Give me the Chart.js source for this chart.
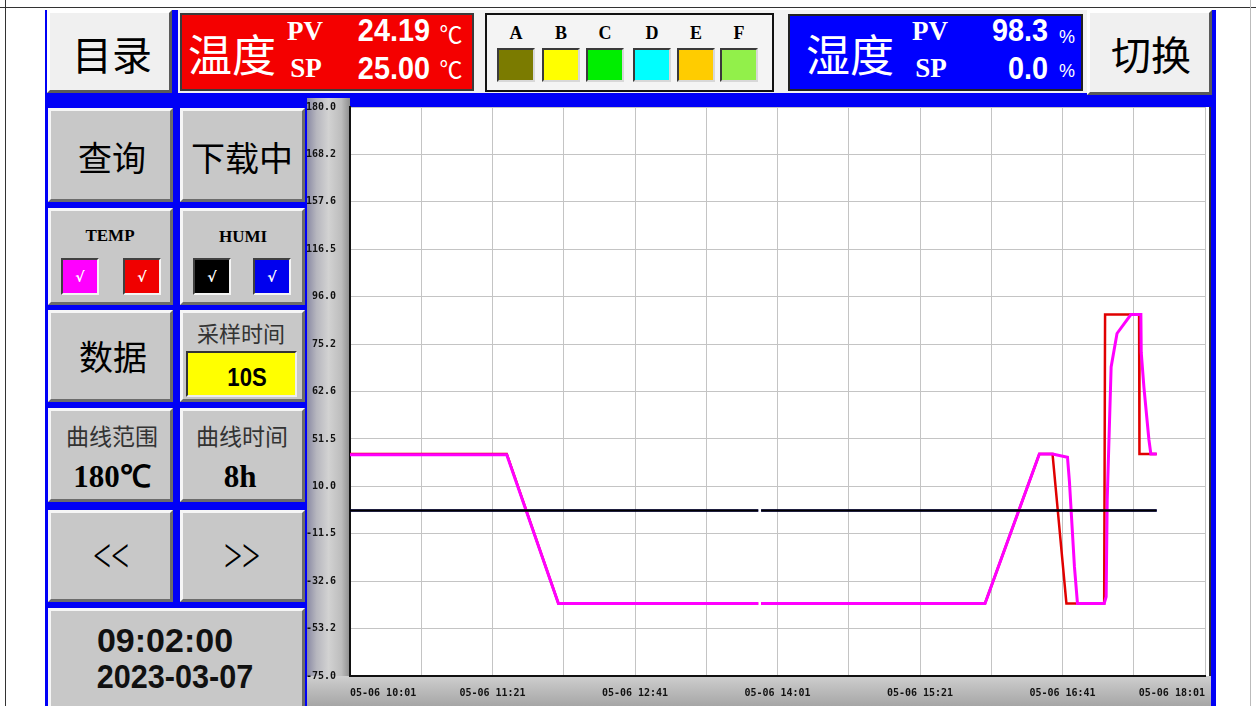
<!DOCTYPE html>
<html>
<head>
<meta charset="utf-8">
<script src="https://cdn.jsdelivr.net/npm/chart.js@4.4.1/dist/chart.umd.min.js"></script>
<style>
html,body{margin:0;padding:0;background:#fff;}
#page{position:relative;width:1256px;height:706px;overflow:hidden;font-family:"Noto Sans CJK SC",sans-serif;}
.abs{position:absolute;box-sizing:border-box;}
.t{position:absolute;transform:translate(-50%,-50%);white-space:nowrap;line-height:1;}
.btn{position:absolute;box-sizing:border-box;background:#c8c8c8;border:3px solid;border-color:#f6f6f6 #6c6c6c #6c6c6c #f6f6f6;}
.light{background:#f0f0f0;border-color:#ffffff #5a5a5a #5a5a5a #ffffff;}
.cjk{font-family:"Noto Sans CJK SC";color:#000;}
.serif{font-family:"Liberation Serif",serif;font-weight:bold;}
.num{font-family:"Liberation Sans",sans-serif;font-weight:bold;}
.sw{position:absolute;box-sizing:border-box;width:38px;height:34px;top:48px;border:2px solid;border-color:#3a3a3a #d8d8d8 #d8d8d8 #3a3a3a;}
.chk{position:absolute;box-sizing:border-box;width:38px;height:37px;top:258px;border:2px solid;border-color:#404040 #f4f4f4 #f4f4f4 #404040;color:#fff;font:bold 14px "DejaVu Sans";display:flex;align-items:center;justify-content:center;}
</style>
</head>
<body>
<div id="page">
  <!-- page frame lines -->
  <div class="abs" style="left:0;top:7px;width:1256px;height:1px;background:#333"></div>
  <div class="abs" style="left:5px;top:0;width:1px;height:706px;background:#333"></div>
  <div class="abs" style="left:1250px;top:0;width:1px;height:706px;background:#bbb"></div>

  <!-- HMI panel -->
  <div class="abs" style="left:45px;top:10px;width:1171px;height:696px;background:#0000f6"></div>
  <div class="abs" style="left:178px;top:10px;width:909px;height:83px;background:#f2f2f2"></div>

  <!-- top row -->
  <div class="btn light" style="left:47px;top:10px;width:125px;height:83px"></div>
  <div class="t cjk" style="left:112px;top:53px;font-size:40px">目录</div>

  <div class="abs" style="left:180px;top:13px;width:294px;height:78px;background:#f40000;border:2px solid #3a3a3a"></div>
  <div class="t cjk" style="left:232px;top:53px;font-size:44px;color:#fff">温度</div>
  <div class="t serif" style="left:305px;top:31px;font-size:27px;color:#fff">PV</div>
  <div class="t serif" style="left:306px;top:68px;font-size:27px;color:#fff">SP</div>
  <div class="abs num" style="left:330px;top:15px;width:100px;text-align:right;font-size:31px;line-height:1;color:#fff;transform:scaleX(0.93);transform-origin:right">24.19</div>
  <div class="abs num" style="left:330px;top:53px;width:100px;text-align:right;font-size:31px;line-height:1;color:#fff;transform:scaleX(0.93);transform-origin:right">25.00</div>
  <div class="t cjk" style="left:451px;top:33px;font-size:23px;color:#fff">℃</div>
  <div class="t cjk" style="left:451px;top:68px;font-size:23px;color:#fff">℃</div>

  <div class="abs" style="left:485px;top:13px;width:289px;height:79px;background:#f4f4f4;border:2px solid #111"></div>
  <div id="legendBox"></div>

  <div class="abs" style="left:788px;top:14px;width:295px;height:77px;background:#0000ff;border:2px solid #222"></div>
  <div class="t cjk" style="left:850px;top:53px;font-size:44px;color:#fff">湿度</div>
  <div class="t serif" style="left:930px;top:31px;font-size:27px;color:#fff">PV</div>
  <div class="t serif" style="left:931px;top:68px;font-size:27px;color:#fff">SP</div>
  <div class="abs num" style="left:948px;top:15px;width:100px;text-align:right;font-size:31px;line-height:1;color:#fff;transform:scaleX(0.93);transform-origin:right">98.3</div>
  <div class="abs num" style="left:948px;top:53px;width:100px;text-align:right;font-size:31px;line-height:1;color:#fff;transform:scaleX(0.93);transform-origin:right">0.0</div>
  <div class="t" style="left:1067px;top:37px;font:18px 'Liberation Sans';color:#fff">%</div>
  <div class="t" style="left:1067px;top:71px;font:18px 'Liberation Sans';color:#fff">%</div>

  <div class="btn light" style="left:1087px;top:10px;width:125px;height:85px"></div>
  <div class="t cjk" style="left:1151px;top:53px;font-size:40px">切换</div>

  <!-- left column -->
  <div class="btn" style="left:48px;top:108px;width:125px;height:94px"></div>
  <div class="t cjk" style="left:112px;top:157px;font-size:34px">查询</div>
  <div class="btn" style="left:180px;top:108px;width:125px;height:94px"></div>
  <div class="t cjk" style="left:242px;top:157px;font-size:34px">下载中</div>

  <div class="btn" style="left:48px;top:208px;width:125px;height:97px"></div>
  <div class="t serif" style="left:110px;top:235px;font-size:17px">TEMP</div>
  <div class="chk" style="left:61px;background:#ff00ff">√</div>
  <div class="chk" style="left:123px;background:#f00000">√</div>
  <div class="btn" style="left:180px;top:208px;width:125px;height:97px"></div>
  <div class="t serif" style="left:243px;top:236px;font-size:17px">HUMI</div>
  <div class="chk" style="left:193px;background:#000">√</div>
  <div class="chk" style="left:253px;background:#0000ee">√</div>

  <div class="btn" style="left:48px;top:310px;width:125px;height:92px"></div>
  <div class="t cjk" style="left:113px;top:356px;font-size:34px">数据</div>
  <div class="btn" style="left:180px;top:310px;width:125px;height:92px"></div>
  <div class="t cjk" style="left:241px;top:332px;font-size:22px;color:#333">采样时间</div>
  <div class="abs" style="left:186px;top:351px;width:111px;height:46px;background:#ffff00;border:2px solid;border-color:#333 #eee #eee #333"></div>
  <div class="t num" style="left:247px;top:377px;font-size:26px;transform:translate(-50%,-50%) scaleX(0.85)">10S</div>

  <div class="btn" style="left:48px;top:408px;width:125px;height:94px"></div>
  <div class="t cjk" style="left:112px;top:435px;font-size:23px;color:#333">曲线范围</div>
  <div class="t serif" style="left:112px;top:476px;font-size:31px">180℃</div>
  <div class="btn" style="left:180px;top:408px;width:125px;height:94px"></div>
  <div class="t cjk" style="left:242px;top:435px;font-size:23px;color:#333">曲线时间</div>
  <div class="t serif" style="left:240px;top:476px;font-size:31px">8h</div>

  <div class="btn" style="left:48px;top:510px;width:125px;height:92px"></div>
  <div class="t" style="left:111px;top:556px;font:32px 'Liberation Serif';transform:translate(-50%,-50%) scaleY(1.5)">&lt;&lt;</div>
  <div class="btn" style="left:180px;top:510px;width:125px;height:92px"></div>
  <div class="t" style="left:242px;top:556px;font:32px 'Liberation Serif';transform:translate(-50%,-50%) scaleY(1.5)">&gt;&gt;</div>

  <div class="btn" style="left:48px;top:608px;width:257px;height:110px"></div>
  <div class="t num" style="left:165px;top:640px;font-size:34px;color:#111">09:02:00</div>
  <div class="t num" style="left:175px;top:676px;font-size:34px;color:#111;transform:translate(-50%,-50%) scaleX(0.9)">2023-03-07</div>

  <!-- chart frame -->
  <div class="abs" style="left:307px;top:98px;width:43px;height:608px;background:linear-gradient(to right,#8a8aa4 0%,#b6b6be 22%,#d2d2d2 50%,#bdbdbd 80%,#8e8e8e 100%)"></div>
  <div class="abs" style="left:307px;top:676px;width:904px;height:30px;background:linear-gradient(to bottom,#cfcfcf 0%,#c2c2c2 30%,#a6a6a6 100%)"></div>
  <div class="abs" style="left:350px;top:107px;width:861px;height:569px;background:#fff;border-right:2px solid #333"></div>
  <div class="abs" style="left:307px;top:98px;width:909px;height:608px">
    <canvas id="chart" width="909" height="608"></canvas>
  </div>
</div>

<script>
/* ---------- DATA ---------- */
const timeLabels = ['05-06 10:01','05-06 11:21','05-06 12:41','05-06 14:01','05-06 15:21','05-06 16:41','05-06 18:01'];
const yTickLabels = ['180.0','168.2','157.6','116.5','96.0','75.2','62.6','51.5','10.0','-11.5','-32.6','-53.2','-75.0'];

// minutes from 10:01 (null = short recording gap)
const tempPvT = [0, 88, 117, 229.2, 230, 230.8, 356.5, 387, 394.4, 402.8, 403.9, 406.7, 408.4, 423.4, 424.5, 425.1, 427.3, 430.6, 438.4, 444, 444.2, 445.7, 448.5, 449.6, 452.9];
const tempPv  = [24.2, 24.2, -42.5, -42.5, null, -42.5, -42.5, 24.5, 24.5, 23, 12, -26, -42.5, -42.5, -39.5, 4, 63.5, 78.5, 87, 87, 70, 54.5, 31, 24.5, 24.5];
const tempSpT = [0, 88, 117, 229.2, 230, 230.8, 356.5, 387, 394.4, 402.2, 423.4, 423.9, 443, 443.2, 452.9];
const tempSp  = [24.5, 24.5, -42.5, -42.5, null, -42.5, -42.5, 24.5, 24.5, -42.5, -42.5, 87, 87, 24.5, 24.5];
const humiT   = [0, 229.2, 230, 230.8, 452.9];
const humiPv  = [-0.8, -0.8, null, -0.8, -0.8];
const humiSp  = [-0.8, -0.8, null, -0.8, -0.8];

const legendNames  = ['A','B','C','D','E','F'];
const legendColors = ['#7b7b00','#ffff00','#00ee00','#00ffff','#ffcc00','#92f04a'];

/* ---------- SHORTCUT ---------- */
const $ = id => document.getElementById(id);
const pts = (ts,vs) => ts.map((t,i)=>({x:t,y:vs[i]}));

/* ---------- LEGEND ---------- */
const swLeft=[497,542,586,633,677,720];
$('legendBox').innerHTML = legendNames.map((n,i)=>
  `<div class="t serif" style="left:${swLeft[i]+19}px;top:33px;font-size:18px">${n}</div>`+
  `<div class="sw" style="left:${swLeft[i]}px;background:${legendColors[i]}"></div>`).join('');

/* ---------- CHART ---------- */
const tickFont = {family:'DejaVu Sans Mono',size:10,weight:'bold'};
const gridCfg = {color:'#c4c4c4',lineWidth:1,drawTicks:false};

new Chart($('chart').getContext('2d'),{
  type:'line',
  data:{datasets:[
    {label:'HUMI PV',data:pts(humiT,humiPv),borderColor:'#000000',borderWidth:2.5,order:0},
    {label:'TEMP PV',data:pts(tempPvT,tempPv),borderColor:'#ff00ff',borderWidth:3,order:1},
    {label:'TEMP SP',data:pts(tempSpT,tempSp),borderColor:'#e00000',borderWidth:2.5,order:2},
    {label:'HUMI SP',data:pts(humiT,humiSp),borderColor:'#0000ff',borderWidth:2,order:3}
  ]},
  options:{
    responsive:false,
    animation:false,
    spanGaps:false,
    layout:{padding:{top:9,right:6,left:0,bottom:0}},
    plugins:{legend:{display:false},tooltip:{enabled:false}},
    elements:{point:{radius:0},line:{tension:0}},
    scales:{
      x:{
        type:'linear',min:0,max:480,
        afterFit:s=>{s.height=30;},
        ticks:{stepSize:40,autoSkip:false,maxRotation:0,align:'inner',padding:11,color:'#111',font:tickFont,
               callback:(v,i)=>i%2 ? '' : timeLabels[i/2]},
        grid:gridCfg,
        border:{color:'#111',width:2}
      },
      y:{
        min:-75,max:180,
        // fixed width; drop the label overhang so the plot top stays put
        afterFit:s=>{s.width=43;s.paddingTop=0;s.paddingBottom=0;},
        ticks:{stepSize:21.25,padding:14,color:'#111',font:tickFont,
               callback:(v,i)=>yTickLabels[yTickLabels.length-1-i]},
        grid:gridCfg,
        border:{color:'#111',width:2}
      }
    }
  }
});
</script>
</body>
</html>
